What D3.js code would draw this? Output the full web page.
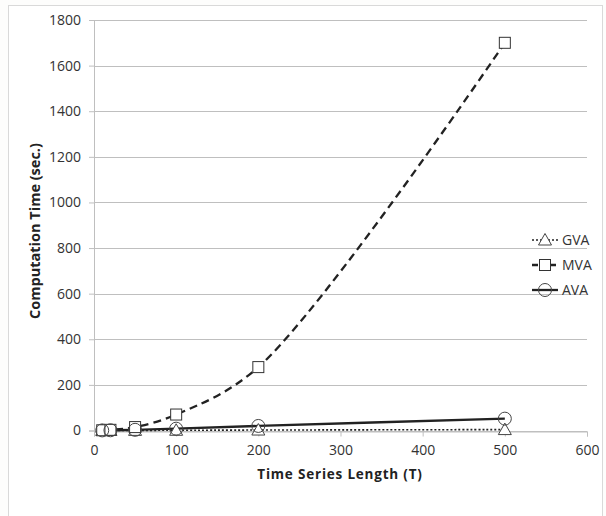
<!DOCTYPE html>
<html><head><meta charset="utf-8">
<script src="https://cdn.jsdelivr.net/npm/d3@7"></script>
<style>body{margin:0;background:#fff;} svg{display:block;}</style>
</head><body>
<script>
const xValues = [10, 20, 50, 100, 200, 500];
const gva = [0.1, 0.2, 0.5, 1, 2, 4];
const mva = [1, 3, 15, 70, 278, 1700];
const ava = [0.5, 1, 3, 8, 20, 52];
const seriesNames = ["GVA", "MVA", "AVA"];
const xTicks = [0, 100, 200, 300, 400, 500, 600];
const yTicks = [0, 200, 400, 600, 800, 1000, 1200, 1400, 1600, 1800];

const W = 606, H = 516;
const svg = d3.select("body").append("svg").attr("width", W).attr("height", H);
svg.append("rect").attr("width", W).attr("height", H).attr("fill", "#fdfdfc");
svg.append("rect").attr("x", 8.5).attr("y", 5.5).attr("width", 594).attr("height", 520)
  .attr("fill", "#ffffff").attr("stroke", "#d9d9d9").attr("stroke-width", 1);

const x = d3.scaleLinear().domain([0, 600]).range([94, 587]);
const y = d3.scaleLinear().domain([0, 1800]).range([430.5, 20]);
const FONT = "Open Sans, sans-serif";

svg.append("g").selectAll("line").data(yTicks).join("line")
  .attr("x1", x(0)).attr("x2", x(600))
  .attr("y1", d => Math.round(y(d)) + 0.5).attr("y2", d => Math.round(y(d)) + 0.5)
  .attr("stroke", "#bfbfbf").attr("stroke-width", 1);

const ya = svg.append("g").attr("transform", `translate(${x(0)},0)`)
  .call(d3.axisLeft(y).tickValues(yTicks).tickSize(5).tickPadding(8).tickFormat(d3.format("d")));
ya.select(".domain").attr("stroke", "#bfbfbf");
ya.selectAll(".tick line").attr("stroke", "#bfbfbf");
ya.selectAll("text").attr("font-family", FONT).attr("font-size", 14).attr("fill", "#333");

const xa = svg.append("g").attr("transform", `translate(0,${Math.round(y(0)) + 0.5})`)
  .call(d3.axisBottom(x).tickValues(xTicks).tickSize(5).tickPadding(9));
xa.select(".domain").attr("stroke", "#bfbfbf");
xa.selectAll(".tick line").attr("stroke", "#bfbfbf");
xa.selectAll("text").attr("font-family", FONT).attr("font-size", 14).attr("fill", "#333");

svg.append("text").attr("x", 340).attr("y", 479).attr("text-anchor", "middle")
  .attr("font-family", FONT).attr("font-weight", "bold").attr("font-size", 13.5)
  .attr("letter-spacing", 0.8).attr("fill", "#222")
  .text("Time Series Length (T)");
svg.append("text").attr("transform", "translate(40,231) rotate(-90)").attr("text-anchor", "middle")
  .attr("font-family", FONT).attr("font-weight", "bold").attr("font-size", 14.5).attr("fill", "#222")
  .text("Computation Time (sec.)");

const series = [
  {name: seriesNames[0], vals: gva, dash: "2,2", width: 1.6, marker: "tri"},
  {name: seriesNames[1], vals: mva, dash: "8,5", width: 2.3, marker: "sq"},
  {name: seriesNames[2], vals: ava, dash: null, width: 2.3, marker: "circ"}
];

const line = d3.line().x(d => x(d[0])).y(d => y(d[1])).curve(d3.curveCatmullRom.alpha(0.5));

function drawMarker(g, type, cx, cy) {
  if (type === "tri") {
    g.append("path").attr("d", `M${cx},${cy-6.5}L${cx+6.5},${cy+5}L${cx-6.5},${cy+5}Z`)
      .attr("fill", "#fff").attr("stroke", "#444").attr("stroke-width", 1);
  } else if (type === "sq") {
    g.append("rect").attr("x", cx-5.5).attr("y", cy-5.5).attr("width", 11).attr("height", 11)
      .attr("fill", "#fff").attr("stroke", "#333").attr("stroke-width", 1);
  } else {
    g.append("circle").attr("cx", cx).attr("cy", cy).attr("r", 6.5)
      .attr("fill", "none").attr("stroke", "#444").attr("stroke-width", 1);
  }
}

series.forEach(s => {
  const pts = xValues.map((xv, i) => [xv, s.vals[i]]);
  svg.append("path").datum(pts).attr("d", line).attr("fill", "none")
    .attr("stroke", "#222").attr("stroke-width", s.width)
    .attr("stroke-dasharray", s.dash);
});
series.forEach(s => {
  const g = svg.append("g");
  xValues.forEach((xv, i) => drawMarker(g, s.marker, x(xv), y(s.vals[i])));
});

const lg = svg.append("g");
series.forEach((s, i) => {
  const ly = 240 + i * 25;
  lg.append("line").attr("x1", 532).attr("x2", 558).attr("y1", ly).attr("y2", ly)
    .attr("stroke", "#222").attr("stroke-width", s.width).attr("stroke-dasharray", s.dash === "8,5" ? "6,3" : s.dash);
  drawMarker(lg, s.marker, 545, ly);
  lg.append("text").attr("x", 562).attr("y", ly + 5)
    .attr("font-family", FONT).attr("font-size", 14).attr("fill", "#333").text(s.name);
});
</script>
</body></html>
